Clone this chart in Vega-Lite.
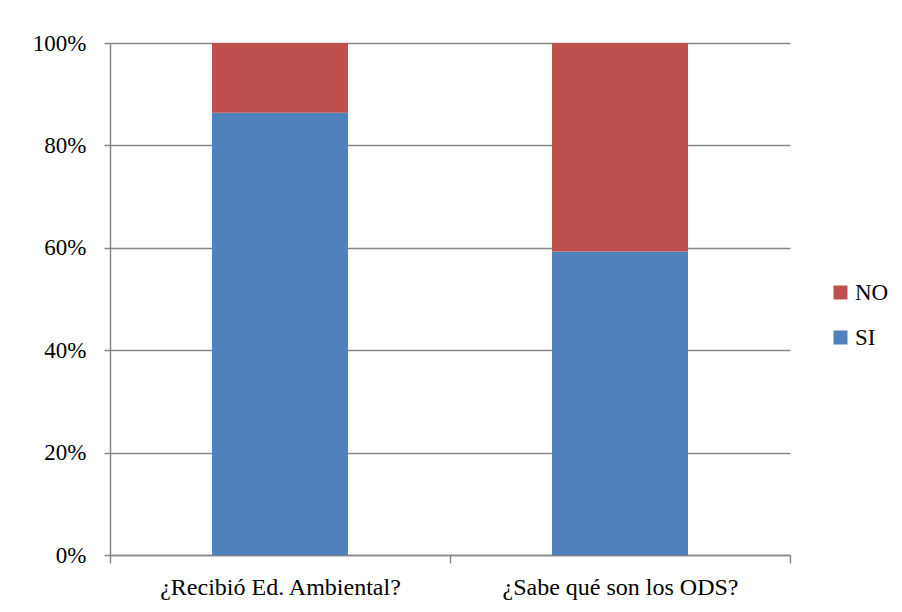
{
  "$schema": "https://vega.github.io/schema/vega-lite/v6.json",
  "width": 680,
  "height": 512,
  "autosize": {"type": "none"},
  "padding": {"left": 110, "top": 43, "right": 112, "bottom": 57},
  "background": "white",
  "data": {
    "values": [
      {"question": "¿Recibió Ed. Ambiental?", "answer": "SI", "value": 86.4},
      {"question": "¿Recibió Ed. Ambiental?", "answer": "NO", "value": 13.6},
      {"question": "¿Sabe qué son los ODS?", "answer": "SI", "value": 59.3},
      {"question": "¿Sabe qué son los ODS?", "answer": "NO", "value": 40.7}
    ]
  },
  "mark": {"type": "bar", "width": {"band": 0.4}},
  "encoding": {
    "x": {
      "field": "question",
      "type": "nominal",
      "sort": null,
      "scale": {"paddingInner": 0, "paddingOuter": 0},
      "axis": {
        "title": null,
        "labelAngle": 0,
        "labelFont": "Liberation Serif",
        "labelFontSize": 24,
        "labelColor": "#000000",
        "labelPadding": 12,
        "labelLimit": 0,
        "tickBand": "extent",
        "tickSize": 8,
        "tickColor": "#868686",
        "domainColor": "#868686",
        "domainWidth": 1.5,
        "tickWidth": 1.5,
        "grid": false
      }
    },
    "y": {
      "field": "value",
      "type": "quantitative",
      "stack": "normalize",
      "scale": {"domain": [0, 1]},
      "axis": {
        "title": null,
        "format": ".0%",
        "values": [0, 0.2, 0.4, 0.6, 0.8, 1],
        "labelFont": "Liberation Serif",
        "labelFontSize": 23,
        "labelColor": "#000000",
        "labelPadding": 18,
        "tickSize": 6,
        "tickColor": "#868686",
        "tickWidth": 1.5,
        "domainColor": "#868686",
        "domainWidth": 1.5,
        "grid": true,
        "gridColor": "#868686",
        "gridWidth": 1.5
      }
    },
    "color": {
      "field": "answer",
      "type": "nominal",
      "scale": {"domain": ["NO", "SI"], "range": ["#C0504D", "#4F81BD"]},
      "legend": {
        "title": null,
        "orient": "none",
        "legendX": 719,
        "legendY": 238,
        "symbolType": "square",
        "symbolSize": 196,
        "symbolStrokeWidth": 0,
        "symbolOpacity": 1,
        "labelFont": "Liberation Serif",
        "labelFontSize": 23,
        "labelColor": "#000000",
        "labelOffset": 3,
        "rowPadding": 21
      }
    },
    "order": {"field": "answer", "sort": "descending"}
  },
  "config": {
    "view": {"stroke": null},
    "bar": {"stroke": null}
  }
}
